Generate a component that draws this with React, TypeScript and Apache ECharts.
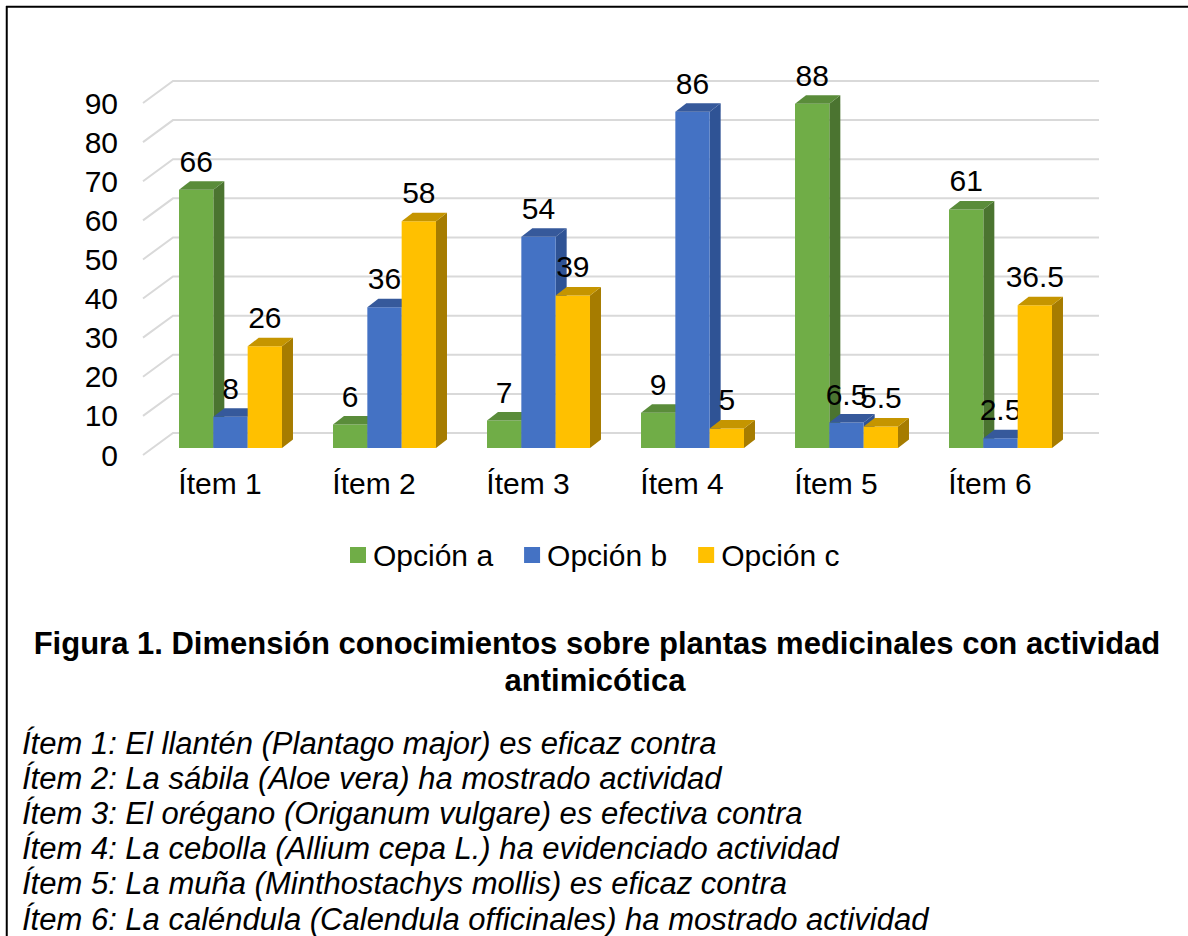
import React, { useEffect, useRef } from "react";
import * as echarts from "echarts";

const categories = ["Ítem 1", "Ítem 2", "Ítem 3", "Ítem 4", "Ítem 5", "Ítem 6"];
const seriesNames = ["Opción a", "Opción b", "Opción c"];
const opcionA = [66, 6, 7, 9, 88, 61];
const opcionB = [8, 36, 54, 86, 6.5, 2.5];
const opcionC = [26, 58, 39, 5, 5.5, 36.5];
const yTicks = [0, 10, 20, 30, 40, 50, 60, 70, 80, 90];

const titleLines = [
  "Figura 1. Dimensión conocimientos sobre plantas medicinales con actividad",
  "antimicótica",
];
const noteLines = [
  "Ítem 1: El llantén (Plantago major) es eficaz contra",
  "Ítem 2: La sábila (Aloe vera) ha mostrado actividad",
  "Ítem 3: El orégano (Origanum vulgare) es efectiva contra",
  "Ítem 4: La cebolla (Allium cepa L.) ha evidenciado actividad",
  "Ítem 5: La muña (Minthostachys mollis) es eficaz contra",
  "Ítem 6: La caléndula (Calendula officinales) ha mostrado actividad",
];

const FONT = '"Liberation Sans", Arial, Helvetica, sans-serif';
const palettes = [
  { front: "#70AD47", side: "#4B7430", top: "#5A8C3A" },
  { front: "#4472C4", side: "#2F5395", top: "#36599B" },
  { front: "#FFC000", side: "#A67C00", top: "#C59500" },
];

export default function App() {
  const ref = useRef<HTMLDivElement>(null);
  useEffect(() => {
    document.body.style.margin = "0";
    const chart = echarts.init(ref.current!, null, { renderer: "svg" });
    const allSeries = [opcionA, opcionB, opcionC];

    const makeBarRender = (k: number) => (params: any, api: any) => {
      const idx = api.value(0);
      const v = api.value(1);
      const base = api.coord([idx, 0]);
      const topP = api.coord([idx, v]);
      const bandW = api.size([1, 0])[0];
      const w = bandW * 0.2229;
      const cx = base[0] + 10.5 + (k - 1) * w;
      const x0 = cx - w / 2;
      const x1 = cx + w / 2;
      const yb = base[1] - 7;
      const yt = topP[1] - 7;
      const ddx = 11;
      const ddy = -8.5;
      const pal = palettes[k];
      return {
        type: "group",
        children: [
          {
            type: "polygon",
            shape: { points: [[x1, yb], [x1 + ddx, yb + ddy], [x1 + ddx, yt + ddy], [x1, yt]] },
            style: { fill: pal.side },
          },
          {
            type: "rect",
            shape: { x: x0, y: yt, width: w, height: yb - yt },
            style: { fill: pal.front },
          },
          {
            type: "polygon",
            shape: { points: [[x0, yt], [x0 + ddx, yt + ddy], [x1 + ddx, yt + ddy], [x1, yt]] },
            style: { fill: pal.top },
          },
          {
            type: "text",
            style: {
              text: String(v),
              x: cx,
              y: yt - 28.5,
              align: "center",
              verticalAlign: "middle",
              fontSize: 30,
              fontFamily: FONT,
              fill: "#000000",
            },
          },
        ],
      };
    };

    const gridRender = (params: any, api: any) => {
      const cs = params.coordSys;
      const p = api.coord([0, api.value(1)]);
      const y = p[1];
      return {
        type: "polyline",
        shape: {
          points: [
            [cs.x, y],
            [cs.x + 30, y - 22],
            [cs.x + cs.width + 32, y - 22],
          ],
        },
        style: { stroke: "#D9D9D9", lineWidth: 2, fill: "none" },
        silent: true,
      };
    };

    const graphics: any[] = [
      { type: "line", shape: { x1: 6, y1: 6.75, x2: 1188, y2: 6.75 }, style: { stroke: "#000", lineWidth: 2 } },
      { type: "line", shape: { x1: 6.75, y1: 6, x2: 6.75, y2: 936 }, style: { stroke: "#000", lineWidth: 2 } },
      {
        type: "text",
        style: {
          text: titleLines[0], x: 597, y: 643, align: "center", verticalAlign: "middle",
          fontSize: 31, fontWeight: "bold", fontFamily: FONT, fill: "#000",
        },
      },
      {
        type: "text",
        style: {
          text: titleLines[1], x: 595, y: 680, align: "center", verticalAlign: "middle",
          fontSize: 31, fontWeight: "bold", fontFamily: FONT, fill: "#000",
        },
      },
    ];
    noteLines.forEach((t, i) => {
      graphics.push({
        type: "text",
        style: {
          text: t, x: 22, y: 743 + i * 35.2, align: "left", verticalAlign: "middle",
          fontSize: 31, fontStyle: "italic", fontFamily: FONT, fill: "#000",
        },
      });
    });

    chart.setOption({
      animation: false,
      backgroundColor: "#ffffff",
      textStyle: { fontFamily: FONT },
      color: palettes.map((p) => p.front),
      grid: { left: 143, top: 103, width: 924, height: 352, containLabel: false },
      xAxis: {
        type: "category",
        data: categories,
        axisLine: { show: false },
        axisTick: { show: false },
        splitLine: { show: false },
        axisLabel: { fontSize: 30, color: "#000", margin: 13, fontFamily: FONT },
      },
      yAxis: {
        type: "value",
        min: 0,
        max: 90,
        interval: 10,
        axisLine: { show: false },
        axisTick: { show: false },
        splitLine: { show: false },
        axisLabel: { fontSize: 30, color: "#000", margin: 25, fontFamily: FONT },
      },
      legend: {
        data: seriesNames,
        left: 350,
        top: 540,
        padding: 0,
        itemWidth: 16,
        itemHeight: 16,
        itemGap: 31,
        icon: "rect",
        textStyle: { fontSize: 30, color: "#000", fontFamily: FONT, padding: [0, 0, 0, 2] },
      },
      graphic: graphics,
      series: [
        {
          type: "custom",
          name: "grid",
          silent: true,
          z: 1,
          renderItem: gridRender,
          data: yTicks.map((t) => [0, t]),
        },
        ...seriesNames.map((name, k) => ({
          type: "custom",
          name,
          z: 2 + k,
          itemStyle: { color: palettes[k].front },
          renderItem: makeBarRender(k),
          data: allSeries[k].map((v, i) => [i, v]),
        })),
      ],
    });
    return () => chart.dispose();
  }, []);
  return <div ref={ref} style={{ width: 1188, height: 936 }} />;
}
